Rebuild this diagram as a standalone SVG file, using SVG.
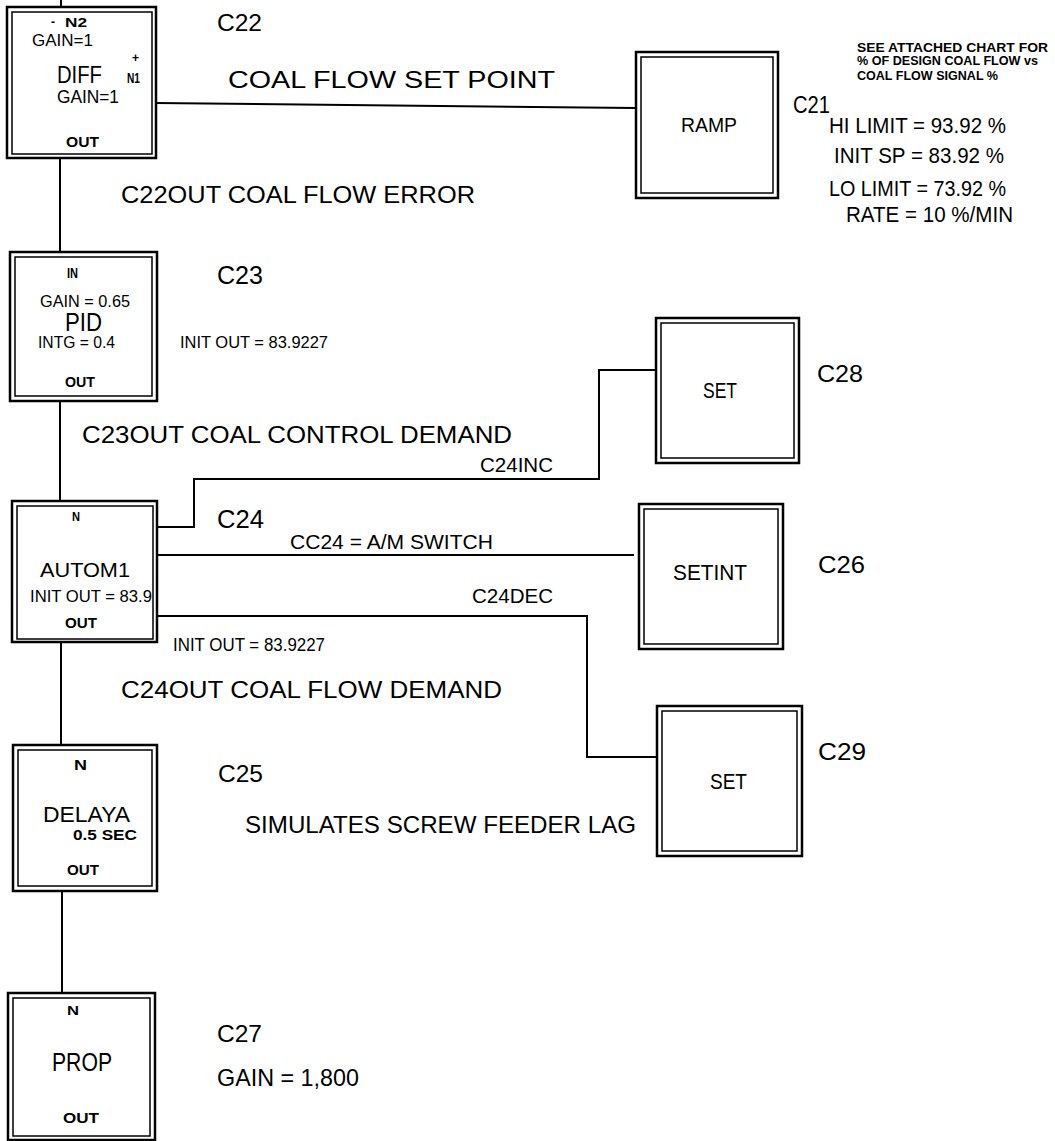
<svg xmlns="http://www.w3.org/2000/svg" width="1055" height="1141" viewBox="0 0 1055 1141">
<style>
.o{fill:none;stroke:#000;stroke-width:2.5}
.n{fill:none;stroke:#000;stroke-width:1.5}
.w{fill:none;stroke:#000;stroke-width:2}
text{font-family:"Liberation Sans Narrow","Liberation Sans",Arial,sans-serif;fill:#000}
.bd{font-weight:bold}
</style>
<rect width="1055" height="1141" fill="#fff"/>
<g id="connectors">
<path class="w" d="M61 0V7"/>
<path class="w" d="M156 103L636 108"/>
<path class="w" d="M60 158V252"/>
<path class="w" d="M60 401V501"/>
<path class="w" d="M157 527H194V479H599V370H656"/>
<path class="w" d="M157 555H634"/>
<path class="w" d="M157 616H587V757H657"/>
<path class="w" d="M61 642V745"/>
<path class="w" d="M62 891V993"/>
</g>
<g id="labels">
<text x="228" y="88" font-size="24" textLength="327" lengthAdjust="spacingAndGlyphs">COAL FLOW SET POINT</text>
<text x="121" y="203" font-size="24" textLength="354" lengthAdjust="spacingAndGlyphs">C22OUT COAL FLOW ERROR</text>
<text x="82" y="443" font-size="24" textLength="430" lengthAdjust="spacingAndGlyphs">C23OUT COAL CONTROL DEMAND</text>
<text x="480" y="472" font-size="20" textLength="73" lengthAdjust="spacingAndGlyphs">C24INC</text>
<text x="290" y="549" font-size="21" textLength="203" lengthAdjust="spacingAndGlyphs">CC24 = A/M SWITCH</text>
<text x="472" y="603" font-size="20" textLength="81" lengthAdjust="spacingAndGlyphs">C24DEC</text>
<text x="173" y="651" font-size="18" textLength="152" lengthAdjust="spacingAndGlyphs">INIT OUT = 83.9227</text>
<text x="121" y="698" font-size="24" textLength="381" lengthAdjust="spacingAndGlyphs">C24OUT COAL FLOW DEMAND</text>
<text x="245" y="833" font-size="24" textLength="391" lengthAdjust="spacingAndGlyphs">SIMULATES SCREW FEEDER LAG</text>
</g>
<g id="diff">
<rect class="o" x="7" y="7" width="149" height="151"/>
<rect class="n" x="12" y="12" width="140" height="142"/>
<text x="51" y="26" font-size="12" class="bd">-</text>
<text x="65" y="27" font-size="12" class="bd" textLength="22" lengthAdjust="spacingAndGlyphs">N2</text>
<text x="32" y="46" font-size="16" textLength="61" lengthAdjust="spacingAndGlyphs">GAIN=1</text>
<text x="132" y="62" font-size="12" class="bd">+</text>
<text x="57" y="83" font-size="23" textLength="45" lengthAdjust="spacingAndGlyphs">DIFF</text>
<text x="127" y="83" font-size="14" class="bd" textLength="13" lengthAdjust="spacingAndGlyphs">N1</text>
<text x="57" y="103" font-size="19" textLength="62" lengthAdjust="spacingAndGlyphs">GAIN=1</text>
<text x="66" y="147" font-size="15" class="bd" textLength="33" lengthAdjust="spacingAndGlyphs">OUT</text>
<text x="217" y="31" font-size="24" textLength="45" lengthAdjust="spacingAndGlyphs">C22</text>
</g>
<g id="ramp">
<rect class="o" x="636" y="52" width="142" height="146"/>
<rect class="n" x="641" y="57" width="132" height="136"/>
<text x="681" y="132" font-size="20" textLength="56" lengthAdjust="spacingAndGlyphs">RAMP</text>
<text x="793" y="113" font-size="24" textLength="37" lengthAdjust="spacingAndGlyphs">C21</text>
<text x="857" y="52" font-size="13" class="bd" textLength="191" lengthAdjust="spacingAndGlyphs">SEE ATTACHED CHART FOR</text>
<text x="857" y="65" font-size="13" class="bd" textLength="181" lengthAdjust="spacingAndGlyphs">% OF DESIGN COAL FLOW vs</text>
<text x="857" y="80" font-size="13" class="bd" textLength="141" lengthAdjust="spacingAndGlyphs">COAL FLOW SIGNAL %</text>
<text x="829" y="133" font-size="22" textLength="177" lengthAdjust="spacingAndGlyphs">HI LIMIT = 93.92 %</text>
<text x="834" y="163" font-size="22" textLength="170" lengthAdjust="spacingAndGlyphs">INIT SP = 83.92 %</text>
<text x="829" y="196" font-size="22" textLength="177" lengthAdjust="spacingAndGlyphs">LO LIMIT = 73.92 %</text>
<text x="846" y="222" font-size="22" textLength="167" lengthAdjust="spacingAndGlyphs">RATE = 10 %/MIN</text>
</g>
<g id="pid">
<rect class="o" x="10" y="252" width="147" height="149"/>
<rect class="n" x="15" y="257" width="137" height="139"/>
<text x="67" y="278" font-size="14" class="bd" textLength="11" lengthAdjust="spacingAndGlyphs">IN</text>
<text x="40" y="307" font-size="16" textLength="90" lengthAdjust="spacingAndGlyphs">GAIN = 0.65</text>
<text x="65" y="331" font-size="25" textLength="37" lengthAdjust="spacingAndGlyphs">PID</text>
<text x="38" y="348" font-size="16" textLength="77" lengthAdjust="spacingAndGlyphs">INTG = 0.4</text>
<text x="65" y="387" font-size="15" class="bd" textLength="30" lengthAdjust="spacingAndGlyphs">OUT</text>
<text x="217" y="284" font-size="25" textLength="46" lengthAdjust="spacingAndGlyphs">C23</text>
<text x="180" y="348" font-size="16" textLength="148" lengthAdjust="spacingAndGlyphs">INIT OUT = 83.9227</text>
</g>
<g id="set28">
<rect class="o" x="656" y="318" width="143" height="145"/>
<rect class="n" x="661" y="323" width="133" height="135"/>
<text x="703" y="398" font-size="22" textLength="34" lengthAdjust="spacingAndGlyphs">SET</text>
<text x="817" y="382" font-size="24" textLength="46" lengthAdjust="spacingAndGlyphs">C28</text>
</g>
<g id="autom1">
<rect class="o" x="12" y="501" width="145" height="141"/>
<rect class="n" x="17" y="506" width="136" height="133"/>
<text x="72" y="521" font-size="12" class="bd" textLength="8" lengthAdjust="spacingAndGlyphs">N</text>
<text x="40" y="577" font-size="20" textLength="90" lengthAdjust="spacingAndGlyphs">AUTOM1</text>
<text x="30" y="602" font-size="17" textLength="122" lengthAdjust="spacingAndGlyphs">INIT OUT = 83.9</text>
<text x="65" y="628" font-size="15" class="bd" textLength="32" lengthAdjust="spacingAndGlyphs">OUT</text>
<text x="217" y="528" font-size="25" textLength="47" lengthAdjust="spacingAndGlyphs">C24</text>
</g>
<g id="setint">
<rect class="o" x="639" y="504" width="144" height="145"/>
<rect class="n" x="644" y="509" width="134" height="135"/>
<text x="673" y="580" font-size="22" textLength="74" lengthAdjust="spacingAndGlyphs">SETINT</text>
<text x="818" y="573" font-size="24" textLength="47" lengthAdjust="spacingAndGlyphs">C26</text>
</g>
<g id="set29">
<rect class="o" x="657" y="706" width="145" height="150"/>
<rect class="n" x="662" y="711" width="135" height="140"/>
<text x="710" y="789" font-size="22" textLength="37" lengthAdjust="spacingAndGlyphs">SET</text>
<text x="818" y="760" font-size="24" textLength="48" lengthAdjust="spacingAndGlyphs">C29</text>
</g>
<g id="delaya">
<rect class="o" x="13" y="745" width="144" height="146"/>
<rect class="n" x="18" y="750" width="134" height="136"/>
<text x="74" y="770" font-size="14" class="bd" textLength="13" lengthAdjust="spacingAndGlyphs">N</text>
<text x="43" y="822" font-size="22" textLength="87" lengthAdjust="spacingAndGlyphs">DELAYA</text>
<text x="73" y="840" font-size="15" class="bd" textLength="64" lengthAdjust="spacingAndGlyphs">0.5 SEC</text>
<text x="67" y="875" font-size="15" class="bd" textLength="32" lengthAdjust="spacingAndGlyphs">OUT</text>
<text x="218" y="782" font-size="24" textLength="45" lengthAdjust="spacingAndGlyphs">C25</text>
</g>
<g id="prop">
<rect class="o" x="8" y="993" width="147" height="147"/>
<rect class="n" x="13" y="998" width="137" height="138"/>
<text x="67" y="1015" font-size="13" class="bd" textLength="12" lengthAdjust="spacingAndGlyphs">N</text>
<text x="52" y="1071" font-size="26" textLength="60" lengthAdjust="spacingAndGlyphs">PROP</text>
<text x="63" y="1123" font-size="15" class="bd" textLength="36" lengthAdjust="spacingAndGlyphs">OUT</text>
<text x="217" y="1042" font-size="24" textLength="45" lengthAdjust="spacingAndGlyphs">C27</text>
<text x="217" y="1086" font-size="24" textLength="142" lengthAdjust="spacingAndGlyphs">GAIN = 1,800</text>
</g>
</svg>
